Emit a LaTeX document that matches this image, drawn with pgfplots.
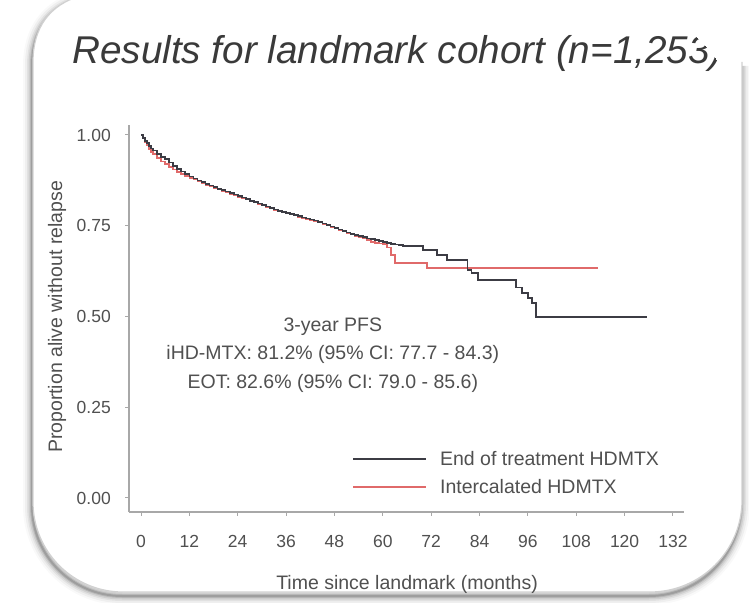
\documentclass[border=0pt]{standalone}
\usepackage{pgfplots}
\pgfplotsset{compat=1.18}
\usepackage{fontspec}
\setmainfont{Liberation Sans}

\definecolor{eotcol}{HTML}{3C3C44}
\definecolor{ihdcol}{HTML}{E06A6A}
\definecolor{axcol}{HTML}{A8A8A8}
\definecolor{txtcol}{HTML}{505050}
\definecolor{titlecol}{HTML}{3A3A3A}

% Kaplan-Meier estimates (months since landmark, survival proportion)
\pgfplotstableread{
t s
0 1.000
0.5 0.992
1 0.984
1.5 0.977
2 0.970
2.5 0.963
3 0.957
4 0.947
5 0.940
6 0.933
7 0.924
8 0.915
9 0.907
10 0.899
11 0.892
12 0.886
13 0.880
14 0.875
15 0.870
16 0.865
17 0.861
18 0.857
19 0.852
20 0.848
21 0.844
22 0.840
23 0.836
24 0.832
25 0.828
26 0.824
27 0.819
28 0.815
29 0.811
30 0.807
31 0.803
32 0.799
33 0.795
34 0.791
35 0.788
36 0.785
37 0.782
38 0.779
39 0.776
40 0.773
41 0.770
42 0.767
43 0.764
44 0.760
45 0.756
46 0.752
47 0.748
48 0.744
49 0.740
50 0.735
51 0.731
52 0.727
53 0.724
54 0.721
55 0.718
56 0.715
57 0.713
58 0.711
59 0.708
60 0.705
61 0.702
62 0.700
63 0.698
64 0.696
65 0.694
70 0.683
73.5 0.669
76 0.656
81 0.628
82 0.620
83.6 0.600
93 0.580
94.5 0.565
96 0.550
97 0.537
98 0.499
125.6 0.499
}\eotdata

\pgfplotstableread{
t s
0 1.000
0.5 0.990
1 0.980
1.5 0.971
2 0.962
2.5 0.954
3 0.947
4 0.936
5 0.927
6 0.920
7 0.912
8 0.905
9 0.898
10 0.892
11 0.887
12 0.882
13 0.877
14 0.872
15 0.867
16 0.862
17 0.858
18 0.854
19 0.850
20 0.846
21 0.842
22 0.838
23 0.834
24 0.830
25 0.826
26 0.822
27 0.818
28 0.814
29 0.810
30 0.806
31 0.802
32 0.798
33 0.794
34 0.790
35 0.787
36 0.784
37 0.781
38 0.778
39 0.775
40 0.772
41 0.769
42 0.766
43 0.763
44 0.759
45 0.755
46 0.751
47 0.747
48 0.743
49 0.739
50 0.734
51 0.730
52 0.726
53 0.722
54 0.719
55 0.715
56 0.711
57 0.705
58 0.702
59 0.701
60 0.700
61 0.690
62 0.670
63 0.647
71 0.634
113.4 0.634
}\ihddata

\begin{document}
\begin{tikzpicture}[x=1pt,y=1pt]
\useasboundingbox (0,0) rectangle (749,602);
\clip (0,0) rectangle (749,602);

% slide frame with a soft drop shadow on the left and bottom
\def\framepath{(33,102) -- (33,540) .. controls (33,575) and (50,597) .. (80,606)
  -- (740,606) -- (742,540)
  -- (742,102) arc[start angle=0,end angle=-90,radius=92]
  -- (123,10) arc[start angle=270,end angle=180,radius=90] -- cycle}
\def\shadowpath{(80,606) .. controls (50,597) and (33,575) .. (33,540)
  -- (33,100) arc[start angle=180,end angle=270,radius=90]
  -- (650,10) arc[start angle=270,end angle=360,radius=92] -- (742,540)}
\begin{scope}[shift={(-1,-4)}]
  \foreach \w/\o in {18/0.025,14/0.04,10/0.06,7/0.08,4/0.11,2/0.14}{
    \draw[line width=\w pt, black, opacity=\o] \shadowpath;
  }
\end{scope}
\fill[white] \framepath;
\draw[black!18, line width=1.2pt] \shadowpath;

% title, its end hidden behind the corner of the slide
\begin{scope}
  \clip (0,0) -- (0,610) -- (616,610) -- (616,596)
        arc[start angle=90,end angle=0,radius=120] -- (736,0) -- cycle;
  \node[anchor=base west, inner sep=0pt, text=titlecol,
        font=\fontsize{38.7}{40}\selectfont\itshape]
    at (72,538.5) {Results for landmark cohort (n=1,253)};
\end{scope}

\begin{axis}[
  at={(129pt,90pt)}, anchor=south west,
  scale only axis, width=555pt, height=387pt,
  xmin=-2.98, xmax=134.74, ymin=-0.0386, ymax=1.0275,
  axis x line*=bottom, axis y line*=left,
  axis line style={axcol, line width=1.3pt, -},
  tick align=outside, major tick length=4pt,
  tick style={axcol, line width=1pt},
  xtick={0,12,...,132}, ytick={0,0.25,0.5,0.75,1},
  /pgf/number format/assume math mode=true,
  tick label style={font=\fontsize{17.5}{20}\selectfont, text=txtcol, inner sep=0pt},
  yticklabel style={xshift=-14pt, /pgf/number format/fixed,
    /pgf/number format/fixed zerofill, /pgf/number format/precision=2},
  xticklabel style={yshift=-19pt},
  xlabel={Time since landmark (months)},
  ylabel={Proportion alive without relapse},
  every axis x label/.style={at={(axis description cs:0.501,-0.186)}, anchor=center,
    font=\fontsize{19.5}{23}\selectfont, text=txtcol},
  every axis y label/.style={at={(axis description cs:-0.1297,0.504)}, rotate=90,
    anchor=center, font=\fontsize{19.5}{23}\selectfont, text=txtcol},
  legend style={at={(axis cs:52.4,0.129)}, anchor=north west, draw=none, fill=none,
    inner sep=0pt, row sep=12pt, column sep=13pt,
    font=\fontsize{19.5}{23}\selectfont, text=txtcol,
    nodes={inner sep=0pt}},
  legend cell align=left,
  legend image code/.code={\draw[#1] (0pt,0pt) -- (73pt,0pt);},
]
\addlegendimage{eotcol, line width=1.7pt}
\addlegendentry{End of treatment HDMTX}
\addlegendimage{ihdcol, line width=1.7pt}
\addlegendentry{Intercalated HDMTX}

\addplot[ihdcol, line width=1.7pt, const plot, forget plot] table[x=t, y=s] {\ihddata};
\addplot[eotcol, line width=1.7pt, const plot, forget plot] table[x=t, y=s] {\eotdata};

\node[align=center, text=txtcol, font=\fontsize{19.5}{28.5}\selectfont]
  at (axis cs:47.6,0.394)
  {3-year PFS\\iHD-MTX: 81.2\% (95\% CI: 77.7 - 84.3)\\EOT: 82.6\% (95\% CI: 79.0 - 85.6)};
\end{axis}
\end{tikzpicture}
\end{document}
